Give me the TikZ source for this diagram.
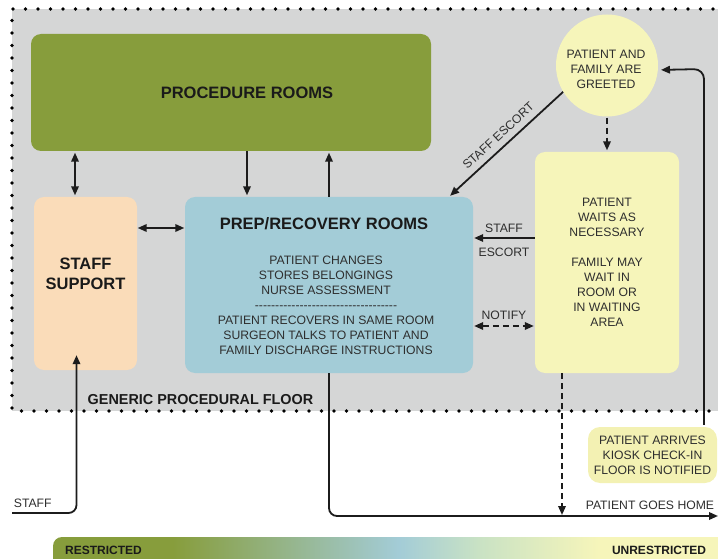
\documentclass[tikz,border=0pt]{standalone}
\usepackage{fontspec}
\setmainfont{Liberation Sans}
\usetikzlibrary{arrows.meta,calc}
\definecolor{bg}{HTML}{D5D6D6}
\definecolor{olive}{HTML}{879D3C}
\definecolor{peach}{HTML}{FADCB9}
\definecolor{lblue}{HTML}{A3CCD7}
\definecolor{pyel}{HTML}{F6F5BA}
\definecolor{kyel}{HTML}{F3F1B3}
\definecolor{lgreen}{HTML}{C9E2C4}
\definecolor{txt}{HTML}{2E2E2E}
\definecolor{hd}{HTML}{1A1A1A}
\definecolor{ln}{HTML}{1C1C1C}
\pgfdeclarehorizontalshading{barshade}{100bp}{color(0bp)=(olive); color(34bp)=(olive); color(51bp)=(lblue); color(57bp)=(lgreen); color(66bp)=(pyel); color(100bp)=(pyel)}
\newcommand\hy{-\kern0pt}
\newcommand\hyten{\hy\hy\hy\hy\hy\hy\hy\hy\hy\hy}
\begin{document}
\begin{tikzpicture}[x=1pt,y=-1pt,
  box/.style={rounded corners=10pt, inner sep=0pt, draw=none},
  body/.style={font=\fontsize{12.2}{15}\selectfont, text=txt, align=center, inner sep=0pt},
  head/.style={font=\fontsize{16.5}{20}\selectfont\bfseries, text=hd, align=center, inner sep=0pt},
  lbl/.style={font=\fontsize{12.2}{15}\selectfont, text=txt},
  arr/.style={draw=ln, line width=1.8pt, -{Triangle[length=9pt,width=7.5pt]}},
  darr/.style={arr, {Triangle[length=9pt,width=7.5pt]}-{Triangle[length=9pt,width=7.5pt]}},
  dsh/.style={dash pattern=on 6pt off 4pt},
  dotline/.style={draw=black, line width=3.8pt, line cap=round, dash pattern=on 0pt off 12.5pt}]
\useasboundingbox (0,0) rectangle (718,559);
% floor area
\fill[bg] (12,9) rectangle (718,411);
\draw[dotline] (713,9) -- (12,9) -- (12,411) -- (710,411);
\node[font=\fontsize{14.4}{17}\selectfont\bfseries, text=hd] (floor) at (200.5,400) {GENERIC PROCEDURAL FLOOR};
% gradient bar
\path[shading=barshade] (718,559) -- (53,559) [rounded corners=9pt] -- (53,537) [sharp corners] -- (718,537) -- cycle;
\node[font=\fontsize{12}{14}\selectfont\bfseries, text=hd] (restr) at (103.5,550) {RESTRICTED};
\node[font=\fontsize{12}{14}\selectfont\bfseries, text=hd] (unrestr) at (659,550) {UNRESTRICTED};
% rooms
\node[box, fill=olive, minimum width=400pt, minimum height=117pt, head] (proc) at (231,92.5) {\hspace*{32pt}PROCEDURE ROOMS};
\node[box, fill=peach, minimum width=103pt, minimum height=173pt] (staff) at (85.5,283.5) {};
\node[head] (stafft) at (85.5,274) {STAFF\\SUPPORT};
\node[box, fill=lblue, minimum width=288pt, minimum height=176pt] (prep) at (329,285) {};
\node[head] (prept) at (324,224) {PREP/RECOVERY ROOMS};
\node[body] (prepb) at (326,305) {PATIENT CHANGES\\STORES BELONGINGS\\NURSE ASSESSMENT\\\hyten\hyten\hyten\hy\hy\hy\hy\hy\\PATIENT RECOVERS IN SAME ROOM\\SURGEON TALKS TO PATIENT AND\\FAMILY DISCHARGE INSTRUCTIONS};
\node[box, fill=pyel, minimum width=144pt, minimum height=221pt, body] (waits) at (607,262.5) {PATIENT\\WAITS AS\\NECESSARY\\[15pt]FAMILY MAY\\WAIT IN\\ROOM OR\\IN WAITING\\AREA};
\node[circle, fill=pyel, minimum size=102pt, inner sep=0pt] (circ) at (607,65.5) {};
\node[body] (circt) at (606,69) {PATIENT AND\\FAMILY ARE\\GREETED};
\node[box, rounded corners=12pt, fill=kyel, minimum width=129pt, minimum height=56pt, body] (kiosk) at (652.5,455) {PATIENT ARRIVES\\KIOSK CHECK-IN\\FLOOR IS NOTIFIED};
% helper coordinates
\coordinate (xa) at (75,0);
\coordinate (xb) at (247,0);
\coordinate (xc) at (329,0);
\coordinate (xd) at (76.5,0);
\coordinate (xe) at (562,0);
\coordinate (xg) at (449,0);
\coordinate (ya) at (0,228);
\coordinate (yb) at (0,238);
\coordinate (yc) at (0,326);
\coordinate (sin) at (12,513);
\coordinate (home) at (718,516);
\coordinate (kc) at (704,69);
% connectors
\draw[darr, shorten <=1.5pt, shorten >=1.5pt] (proc.south -| xa) -- (staff.north -| xa);
\draw[arr, shorten >=1.5pt] (proc.south -| xb) -- (prep.north -| xb);
\draw[arr, shorten >=1.5pt] (prep.north -| xc) -- (proc.south -| xc);
\draw[darr, shorten <=0.5pt, shorten >=0.5pt] (staff.east |- ya) -- (prep.west |- ya);
\draw[arr, shorten >=1.5pt] (circ.211) -- (prep.north -| xg) node[lbl, midway, sloped, above=3pt] {STAFF ESCORT};
\draw[arr, dsh, shorten <=1pt, shorten >=1.5pt] (circ.south) -- (waits.north);
\draw[arr, shorten >=1pt] (waits.west |- yb) -- (prep.east |- yb) node[lbl, midway, above=1.5pt] {STAFF} node[lbl, midway, below=6pt] {ESCORT};
\draw[darr, dsh, shorten <=1pt, shorten >=1pt] (prep.east |- yc) -- (waits.west |- yc) node[lbl, midway, above=2.5pt] {NOTIFY};
\draw[arr, rounded corners=8pt] (sin) node[lbl, anchor=south west, inner sep=0pt, xshift=1pt, yshift=4pt] {STAFF} -- (sin -| xd) -- ([yshift=15pt]staff.south -| xd);
\draw[arr, rounded corners=8pt] (prep.south -| xc) -- (xc |- home) -- (home) node[lbl, anchor=south east, inner sep=0pt, xshift=-3pt, yshift=5pt] {PATIENT GOES HOME};
\draw[arr, dsh, shorten >=1pt] (waits.south -| xe) -- (xe |- home);
\draw[arr, rounded corners=10pt, shorten >=3pt] ([yshift=2pt]kiosk.north -| kc) -- (kc) -- (circ.-5);
\end{tikzpicture}
\end{document}
